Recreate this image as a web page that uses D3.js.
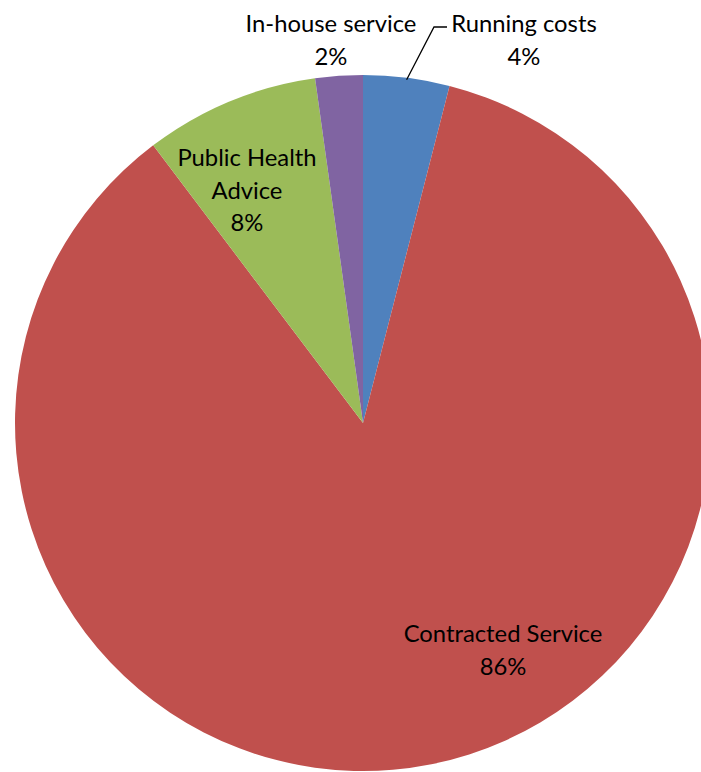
<!DOCTYPE html>
<html><head><meta charset="utf-8">
<script src="https://cdn.jsdelivr.net/npm/d3@7"></script>
<style>html,body{margin:0;padding:0;background:#fff;overflow:hidden}</style>
</head><body>
<svg id="chart" width="701" height="772"></svg>
<script>
const categories = ["Running costs", "Contracted Service", "Public Health Advice", "In-house service"];
const values = [4.0, 85.7, 8.1, 2.2];
const colors = ["#4F81BD", "#C0504D", "#9BBB59", "#8064A2"];
const labelLines = [["Running costs"], ["Contracted Service"], ["Public Health", "Advice"], ["In-house service"]];

const svg = d3.select("#chart");
const cx = 363, cy = 423, r = 348;
const g = svg.append("g").attr("transform", `translate(${cx},${cy})`);

const pie = d3.pie().sort(null).value(d => d);
const arcs = pie(values);
const arc = d3.arc().innerRadius(0).outerRadius(r);
const total = d3.sum(values);

g.selectAll("path").data(arcs).enter().append("path")
  .attr("d", arc).attr("fill", (d, i) => colors[i]);

const labelPos = [
  {x: 524, y: 32},
  {x: 503, y: 642},
  {x: 247, y: 166},
  {x: 331, y: 32}
];
const lh = 32.5;
labelPos.forEach((p, i) => {
  const lines = labelLines[i].concat([Math.round(values[i] / total * 100) + "%"]);
  const t = svg.append("text")
    .attr("text-anchor", "middle")
    .attr("font-family", "Lato, 'Open Sans', sans-serif")
    .attr("font-size", 23.8)
    .attr("fill", "#000");
  lines.forEach((l, j) => {
    t.append("tspan").attr("x", p.x).attr("y", p.y + j * lh).text(l);
  });
});

const a0 = arcs[0];
const mid = (a0.startAngle + a0.endAngle) / 2;
const ex = cx + Math.sin(mid) * r, ey = cy - Math.cos(mid) * r;
svg.append("polyline")
  .attr("points", `${ex},${ey + 2} ${434},${27} ${447},${27}`)
  .attr("fill", "none").attr("stroke", "#000").attr("stroke-width", 1.3);
</script>
</body></html>
